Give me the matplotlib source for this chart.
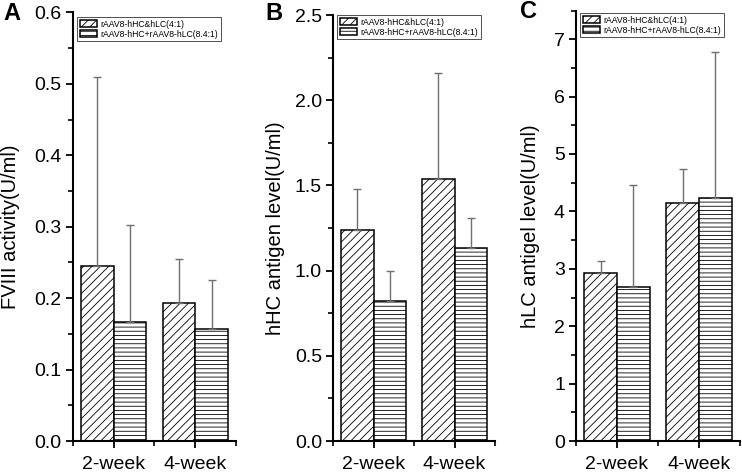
import numpy as np
import matplotlib
matplotlib.use("Agg")
import matplotlib.pyplot as plt
import matplotlib.transforms as mtransforms
from matplotlib.ticker import MultipleLocator, FormatStrFormatter

plt.rcParams['font.family'] = ['Liberation Sans', 'DejaVu Sans']
plt.rcParams['hatch.linewidth'] = 0.6

# --- DATA ---
weeks = ["2-week", "4-week"]
series_names = ["rAAV8-hHC&hLC(4:1)", "rAAV8-hHC+rAAV8-hLC(8.4:1)"]

fviii_mean = [[0.245, 0.193], [0.167, 0.157]]
fviii_err = [[0.265, 0.062], [0.135, 0.069]]

hhc_mean = [[1.24, 1.54], [0.82, 1.13]]
hhc_err = [[0.24, 0.62], [0.18, 0.18]]

hlc_mean = [[2.93, 4.15], [2.68, 4.23]]
hlc_err = [[0.20, 0.58], [1.78, 2.54]]

ylabels = ["FVIII activity(U/ml)", "hHC antigen level(U/ml)", "hLC antigel level(U/ml)"]
letters = ["A", "B", "C"]
ylims = [(0, 0.6), (0, 2.5), (0, 7.5)]
major_steps = [0.1, 0.5, 1]
formats = ["%.1f", "%.1f", "%d"]
# -------------

W, H = 742, 475
hatches = ["////", "----"]
width = 0.4

fig = plt.figure(figsize=(W / 100, H / 100), dpi=100)

# axes boxes in pixels: left, right, top, bottom
px_boxes = [(72.7, 236, 12.5, 441), (333, 495, 15, 441), (576, 740, 10.5, 441)]
legend_px = [(77, 17), (337, 15), (580, 13)]
letter_px = [(3, 13), (265, 13), (520, 11)]
ylabel_px = [20, 285, 540]

panels = [(fviii_mean, fviii_err), (hhc_mean, hhc_err), (hlc_mean, hlc_err)]
x = np.arange(1, len(weeks) + 1)

for i, (means, errs) in enumerate(panels):
    l, r, t, b = px_boxes[i]
    ax = fig.add_axes([l / W, 1 - b / H, (r - l) / W, (b - t) / H])
    for j in range(2):
        ax.bar(x + (j - 0.5) * width, means[j], width, color="white",
               edgecolor="black", hatch=hatches[j], linewidth=1.1,
               label=series_names[j], zorder=2)
        ax.errorbar(x + (j - 0.5) * width, means[j],
                    yerr=[np.zeros(2), errs[j]], fmt="none",
                    ecolor="#707070", elinewidth=1.0, capsize=3,
                    capthick=1.0, zorder=3)

    ax.set_xlim(0.5, 2.5)
    ax.set_ylim(*ylims[i])
    ax.set_xticks(x)
    ax.set_xticklabels(weeks)
    ax.xaxis.set_minor_locator(MultipleLocator(0.5))
    ax.yaxis.set_major_locator(MultipleLocator(major_steps[i]))
    ax.yaxis.set_minor_locator(MultipleLocator(major_steps[i] / 2))
    ax.yaxis.set_major_formatter(FormatStrFormatter(formats[i]))

    for side in ["top", "right"]:
        ax.spines[side].set_visible(False)
    for side in ["left", "bottom"]:
        ax.spines[side].set_linewidth(1.5)

    ax.tick_params(axis="both", which="major", direction="out", length=5,
                   width=1.3, labelsize=14)
    ax.tick_params(axis="both", which="minor", direction="out", length=3.5,
                   width=1.2)
    ax.tick_params(axis="y", which="major", pad=3)
    ax.tick_params(axis="x", which="major", pad=5.5)

    ax.set_ylabel(ylabels[i], fontsize=14.5)
    trans = mtransforms.blended_transform_factory(fig.transFigure, ax.transAxes)
    ax.yaxis.set_label_coords(ylabel_px[i] / W, 0.5, transform=trans)

    lx, ly = legend_px[i]
    leg = ax.legend(loc="upper left", bbox_to_anchor=(lx / W, 1 - ly / H),
                    bbox_transform=fig.transFigure, fontsize=6.2,
                    frameon=True, fancybox=False, edgecolor="black",
                    handlelength=2.0, handleheight=0.9, borderpad=0.3,
                    labelspacing=0.15, handletextpad=0.4, borderaxespad=0)
    leg.get_frame().set_linewidth(0.6)

    tx, ty = letter_px[i]
    fig.text(tx / W, 1 - ty / H, letters[i], fontsize=17, fontweight="bold",
             va="center", ha="left")

fig.savefig("out.png", dpi=100)
